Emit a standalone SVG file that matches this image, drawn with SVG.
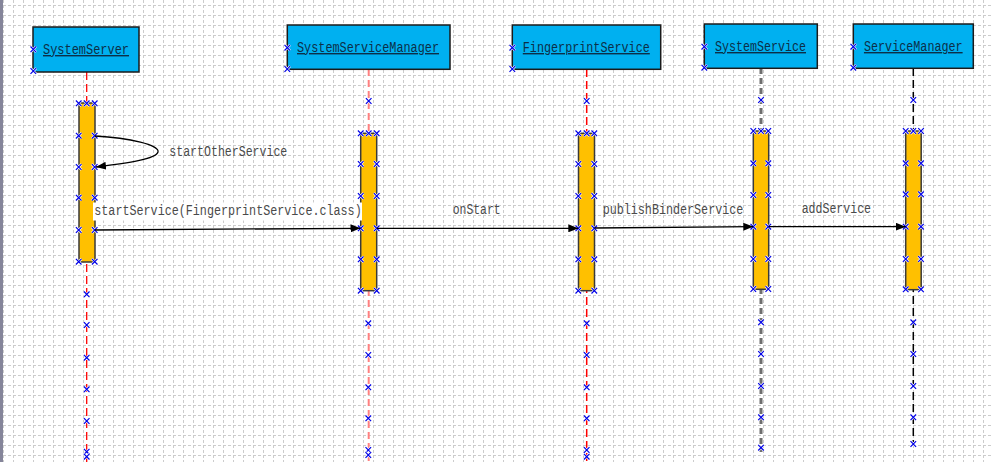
<svg xmlns="http://www.w3.org/2000/svg" xmlns:xlink="http://www.w3.org/1999/xlink" width="992" height="462" viewBox="0 0 992 462">
<style>
.box{fill:#00b0f0;stroke:#1a1a1a;stroke-width:1.5}
.bar{fill:#ffc000;stroke:#3a3a3a;stroke-width:1.5}
.name{font-family:"Liberation Mono","DejaVu Sans Mono",monospace;font-size:14px;fill:#0c2f48;text-decoration:underline}
.lbl{font-family:"Liberation Mono","DejaVu Sans Mono",monospace;font-size:14px;fill:#4a4a4a}
.msg{fill:none;stroke:#000;stroke-width:1.3}
.xw{fill:none;stroke:#fff;stroke-width:2.4}
.x{fill:none;stroke:#0000e6;stroke-width:1.2}
</style>
<defs>
<pattern id="grid" patternUnits="userSpaceOnUse" x="3" y="5" width="10" height="10">
<line x1="0.5" y1="0" x2="0.5" y2="10" stroke="#cccccc" stroke-width="1" stroke-dasharray="3,2"/>
<line x1="0" y1="0.5" x2="10" y2="0.5" stroke="#cccccc" stroke-width="1" stroke-dasharray="3,2"/>
</pattern>
<marker id="arr" viewBox="0 0 10 8" refX="10" refY="4" markerWidth="10" markerHeight="8" markerUnits="userSpaceOnUse" orient="auto">
<path d="M0,0 L10,4 L0,8 z" fill="#000"/>
</marker>
<g id="x">
<path class="xw" d="M-2.8,-2.8 L2.8,2.8 M-2.8,2.8 L2.8,-2.8"/>
<path class="x" d="M-2.8,-2.8 L2.8,2.8 M-2.8,2.8 L2.8,-2.8"/>
</g>
</defs>
<rect width="992" height="462" fill="#fff"/>
<rect width="992" height="462" fill="url(#grid)"/>
<rect x="0" y="0" width="3" height="462" fill="#85859a"/>

<g id="SystemServer">
<line x1="86.7" y1="72" x2="86.7" y2="462" stroke="#ff0000" stroke-width="1.3" stroke-dasharray="8,4"/>
<rect class="box" x="33" y="27" width="106" height="45"/>
<text class="name" x="86" y="54" text-anchor="middle" textLength="86" lengthAdjust="spacingAndGlyphs">SystemServer</text>
<rect class="bar" x="79" y="103" width="16" height="159"/>
<use href="#x" x="33.3" y="49.3"/><use href="#x" x="33.3" y="71"/>
<use href="#x" x="78.7" y="103.3"/><use href="#x" x="86.7" y="103.3"/><use href="#x" x="94.7" y="103.3"/>
<use href="#x" x="78.7" y="135.7"/><use href="#x" x="94.7" y="135.7"/>
<use href="#x" x="78.7" y="167"/><use href="#x" x="94.7" y="167"/>
<use href="#x" x="78.7" y="197.7"/><use href="#x" x="94.7" y="197.7"/>
<use href="#x" x="78.7" y="230"/><use href="#x" x="94.7" y="230"/>
<use href="#x" x="78.7" y="261.7"/><use href="#x" x="94.7" y="261.7"/>
<use href="#x" x="86.7" y="294.3"/><use href="#x" x="86.7" y="325"/><use href="#x" x="86.7" y="357.7"/>
<use href="#x" x="86.7" y="389.3"/><use href="#x" x="86.7" y="421"/><use href="#x" x="86.7" y="451.7"/><use href="#x" x="86.7" y="456.7"/>
</g>

<g id="SystemServiceManager">
<line x1="368.7" y1="69" x2="368.7" y2="462" stroke="#ff8080" stroke-width="2" stroke-dasharray="7,4"/>
<rect class="box" x="287.3" y="25" width="162.7" height="44.3"/>
<text class="name" x="368" y="52" text-anchor="middle" textLength="142" lengthAdjust="spacingAndGlyphs">SystemServiceManager</text>
<rect class="bar" x="360.7" y="133.3" width="16" height="157.4"/>
<use href="#x" x="287.3" y="47.7"/><use href="#x" x="287.3" y="69"/>
<use href="#x" x="368.7" y="101"/>
<use href="#x" x="360.7" y="133.3"/><use href="#x" x="368.7" y="133.3"/><use href="#x" x="376.7" y="133.3"/>
<use href="#x" x="360.7" y="164"/><use href="#x" x="376.7" y="164"/>
<use href="#x" x="360.7" y="196"/><use href="#x" x="376.7" y="196"/>
<use href="#x" x="360.7" y="228.3"/><use href="#x" x="376.7" y="228.3"/>
<use href="#x" x="360.7" y="259.3"/><use href="#x" x="376.7" y="259.3"/>
<use href="#x" x="360.7" y="290.7"/><use href="#x" x="376.7" y="290.7"/>
<use href="#x" x="368.3" y="323.3"/><use href="#x" x="368.3" y="355"/><use href="#x" x="368.3" y="387.3"/>
<use href="#x" x="368.3" y="418.3"/><use href="#x" x="368.3" y="450"/><use href="#x" x="368.3" y="455"/>
</g>

<g id="FingerprintService">
<line x1="586.7" y1="69" x2="586.7" y2="462" stroke="#ff0000" stroke-width="1.5" stroke-dasharray="8,4"/>
<rect class="box" x="512.3" y="25" width="148.4" height="44.3"/>
<text class="name" x="586.3" y="52" text-anchor="middle" textLength="127" lengthAdjust="spacingAndGlyphs">FingerprintService</text>
<rect class="bar" x="578.5" y="133.3" width="16" height="157.4"/>
<use href="#x" x="512.3" y="47.7"/><use href="#x" x="512.3" y="69"/>
<use href="#x" x="586.7" y="101"/>
<use href="#x" x="578.3" y="133.3"/><use href="#x" x="586.7" y="133.3"/><use href="#x" x="594.3" y="133.3"/>
<use href="#x" x="578.3" y="164"/><use href="#x" x="594.3" y="164"/>
<use href="#x" x="578.3" y="196"/><use href="#x" x="594.3" y="196"/>
<use href="#x" x="578.3" y="228.3"/><use href="#x" x="594.3" y="228.3"/>
<use href="#x" x="578.3" y="259.3"/><use href="#x" x="594.3" y="259.3"/>
<use href="#x" x="578.3" y="290.7"/><use href="#x" x="594.3" y="290.7"/>
<use href="#x" x="586.7" y="323.3"/><use href="#x" x="586.7" y="355"/><use href="#x" x="586.7" y="387.3"/>
<use href="#x" x="586.7" y="418.3"/><use href="#x" x="586.7" y="450"/><use href="#x" x="586.7" y="456.7"/>
</g>

<g id="SystemService">
<line x1="761" y1="68" x2="761" y2="452" stroke="#6e6e6e" stroke-width="3" stroke-dasharray="6,4"/>
<rect class="box" x="704.3" y="24" width="113" height="44.3"/>
<text class="name" x="760.5" y="51" text-anchor="middle" textLength="91" lengthAdjust="spacingAndGlyphs">SystemService</text>
<rect class="bar" x="753.3" y="131" width="15.4" height="158.3"/>
<use href="#x" x="704.3" y="46.7"/><use href="#x" x="704.3" y="67.7"/>
<use href="#x" x="761" y="100"/>
<use href="#x" x="753.3" y="131"/><use href="#x" x="761" y="131"/><use href="#x" x="768.3" y="131"/>
<use href="#x" x="753.3" y="163.3"/><use href="#x" x="768.3" y="163.3"/>
<use href="#x" x="753.3" y="195"/><use href="#x" x="768.3" y="195"/>
<use href="#x" x="753.3" y="226.7"/><use href="#x" x="768.3" y="226.7"/>
<use href="#x" x="753.3" y="259"/><use href="#x" x="768.3" y="259"/>
<use href="#x" x="753.3" y="289"/><use href="#x" x="768.3" y="289"/>
<use href="#x" x="761" y="322.3"/><use href="#x" x="761" y="354"/><use href="#x" x="761" y="386"/>
<use href="#x" x="761" y="417.3"/><use href="#x" x="761" y="447.7"/>
</g>

<g id="ServiceManager">
<line x1="913.3" y1="68" x2="913.3" y2="446" stroke="#000" stroke-width="1.5" stroke-dasharray="8,4"/>
<rect class="box" x="853.3" y="24" width="120" height="44.3"/>
<text class="name" x="913.3" y="51" text-anchor="middle" textLength="98.7" lengthAdjust="spacingAndGlyphs">ServiceManager</text>
<rect class="bar" x="905.7" y="131" width="15.5" height="158.7"/>
<use href="#x" x="853.3" y="46.7"/><use href="#x" x="853.3" y="67.7"/>
<use href="#x" x="913.3" y="100"/>
<use href="#x" x="905.7" y="131"/><use href="#x" x="913.3" y="131"/><use href="#x" x="921" y="131"/>
<use href="#x" x="905.7" y="163.3"/><use href="#x" x="921" y="163.3"/>
<use href="#x" x="905.7" y="194.3"/><use href="#x" x="921" y="194.3"/>
<use href="#x" x="905.7" y="226.7"/><use href="#x" x="921" y="226.7"/>
<use href="#x" x="905.7" y="259"/><use href="#x" x="921" y="259"/>
<use href="#x" x="905.7" y="289.3"/><use href="#x" x="921" y="289.3"/>
<use href="#x" x="913.3" y="322.3"/><use href="#x" x="913.3" y="354"/><use href="#x" x="913.3" y="386"/>
<use href="#x" x="913.3" y="417.3"/><use href="#x" x="913.3" y="444"/>
</g>

<g id="connectors">
<path class="msg" d="M95,136 C130,138 160,145 158,152 C156,159 128,163 96,167" marker-end="url(#arr)"/>
<text class="lbl" x="169.3" y="155.5" textLength="118" lengthAdjust="spacingAndGlyphs">startOtherService</text>
<rect x="93" y="202.5" width="269" height="18" fill="#fff"/>
<text class="lbl" x="94.3" y="214.5" textLength="267.4" lengthAdjust="spacingAndGlyphs">startService(FingerprintService.class)</text>
<path class="msg" d="M95,230 L360.5,228.3" marker-end="url(#arr)"/>
<text class="lbl" x="452.7" y="213.5" textLength="48" lengthAdjust="spacingAndGlyphs">onStart</text>
<path class="msg" d="M377,228.3 L578.3,228.3" marker-end="url(#arr)"/>
<text class="lbl" x="602.7" y="213.5" textLength="140.6" lengthAdjust="spacingAndGlyphs">publishBinderService</text>
<path class="msg" d="M594.5,228 L753.3,226.7" marker-end="url(#arr)"/>
<text class="lbl" x="801.7" y="212.5" textLength="69.3" lengthAdjust="spacingAndGlyphs">addService</text>
<path class="msg" d="M768.7,226.7 L905.7,226.7" marker-end="url(#arr)"/>
</g>
</svg>
